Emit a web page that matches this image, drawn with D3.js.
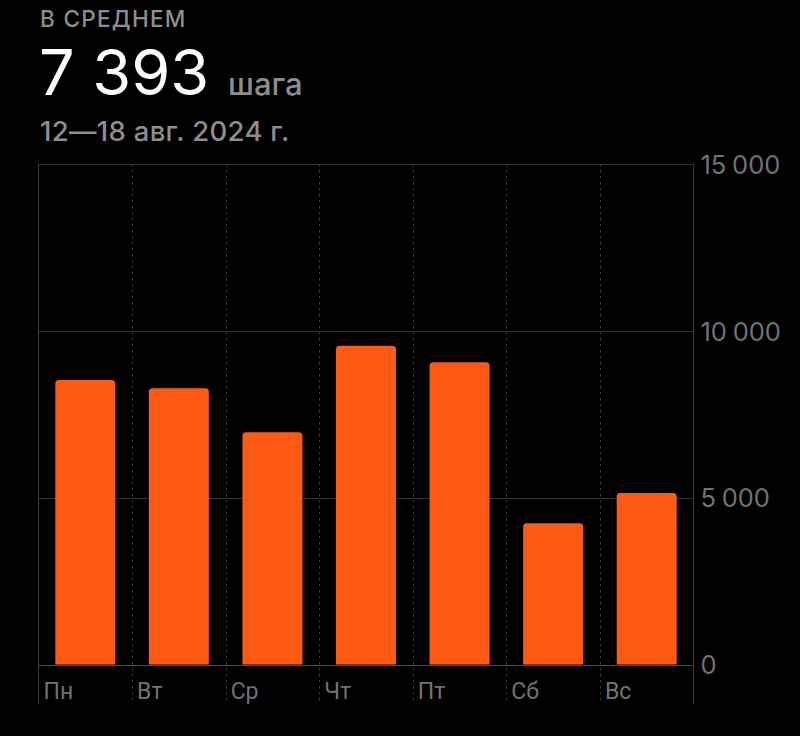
<!DOCTYPE html>
<html>
<head>
<meta charset="utf-8">
<script src="https://cdn.jsdelivr.net/npm/d3@7"></script>
<style>
  html, body { margin: 0; padding: 0; background: #000; }
  svg { display: block; }
</style>
</head>
<body>
<svg id="chart" width="800" height="736"></svg>
<script>
// ---- data ----
const days = ["Пн", "Вт", "Ср", "Чт", "Пт", "Сб", "Вс"];
const steps = [8530, 8280, 6960, 9550, 9060, 4230, 5140];
const yTicks = [0, 5000, 10000, 15000];
const yTickLabels = ["0", "5 000", "10 000", "15 000"];
const headerLabel = "В СРЕДНЕМ";
const averageValue = "7 393";
const unitLabel = "шага";
const dateRange = "12—18 авг. 2024 г.";

// ---- layout ----
const svg = d3.select("#chart");
const plotLeft = 38.5, plotRight = 693.5, plotTop = 164, plotBottom = 664.5, lineBottom = 704;
const font = "Inter, 'Noto Sans', sans-serif";

const x = d3.scaleBand().domain(days).range([plotLeft, plotRight]).paddingInner(0).paddingOuter(0);
const barPad = 16.8;
const y = d3.scaleLinear().domain([0, 15000]).range([plotBottom, plotTop]);

// header
svg.append("text").attr("x", 40).attr("y", 27).text(headerLabel)
  .attr("font-family", font).attr("font-size", 22.5).attr("font-weight", 500)
  .attr("fill", "#8e8e8e").attr("letter-spacing", 1.3);
svg.append("text").attr("x", 39).attr("y", 95).text(averageValue)
  .attr("font-family", font).attr("font-size", 63).attr("font-weight", 400)
  .attr("fill", "#ffffff");
svg.append("text").attr("x", 228).attr("y", 95).text(unitLabel)
  .attr("font-family", font).attr("font-size", 31).attr("font-weight", 500)
  .attr("fill", "#8e8e8e");
svg.append("text").attr("x", 40).attr("y", 140.5).text(dateRange)
  .attr("font-family", font).attr("font-size", 27.5).attr("font-weight", 500)
  .attr("fill", "#8e8e8e").attr("letter-spacing", 0.3);

// horizontal gridlines
const grid = svg.append("g");
grid.selectAll("line.h").data(yTicks).join("line")
  .attr("x1", plotLeft).attr("x2", plotRight)
  .attr("y1", d => Math.round(y(d)) + 0.5).attr("y2", d => Math.round(y(d)) + 0.5)
  .attr("stroke", d => d === 0 ? "#4a4a4a" : "#333333").attr("stroke-width", 1);

// dashed column separators
grid.selectAll("line.v").data(days.slice(1)).join("line")
  .attr("x1", d => Math.round(x(d)) + 0.5).attr("x2", d => Math.round(x(d)) + 0.5)
  .attr("y1", plotTop).attr("y2", lineBottom)
  .attr("stroke", "#3c3c3c").attr("stroke-width", 1).attr("stroke-dasharray", "2.5,3.5");

// solid borders
[plotLeft, plotRight].forEach(xx => {
  grid.append("line").attr("x1", xx).attr("x2", xx).attr("y1", plotTop).attr("y2", lineBottom)
    .attr("stroke", "#3a3a3a").attr("stroke-width", 1);
});

// bars (top-rounded)
const r = 3.5;
svg.append("g").selectAll("path").data(days.map((d, i) => ({ d, v: steps[i] }))).join("path")
  .attr("fill", "#ff5a14")
  .attr("d", o => {
    const x0 = x(o.d) + barPad, w = x.bandwidth() - 2 * barPad;
    const y0 = y(o.v), y1 = y(0);
    return `M${x0},${y1}V${y0 + r}Q${x0},${y0} ${x0 + r},${y0}H${x0 + w - r}Q${x0 + w},${y0} ${x0 + w},${y0 + r}V${y1}Z`;
  });

// y axis labels (right)
const yAxis = d3.axisRight(y).tickValues(yTicks)
  .tickFormat(d => yTickLabels[yTicks.indexOf(d)]).tickSize(0).tickPadding(0);
const gy = svg.append("g").attr("transform", `translate(${plotRight + 7},0)`).call(yAxis);
gy.select(".domain").remove();
gy.selectAll("text").attr("font-family", font).attr("font-size", 25.5)
  .attr("fill", "#727272").attr("dy", "0.36em").attr("word-spacing", -1.5);

// x axis labels
const xAxis = d3.axisBottom(x).tickSize(0).tickPadding(0);
const gx = svg.append("g").attr("transform", `translate(0,${plotBottom})`).call(xAxis);
gx.select(".domain").remove();
gx.selectAll(".tick").attr("transform", d => `translate(${x(d) + 5},0)`);
gx.selectAll("text").attr("text-anchor", "start").attr("y", 34).attr("dy", 0)
  .attr("font-family", "Roboto, Inter, sans-serif").attr("font-size", 23)
  .attr("fill", "#727272");
</script>
</body>
</html>
